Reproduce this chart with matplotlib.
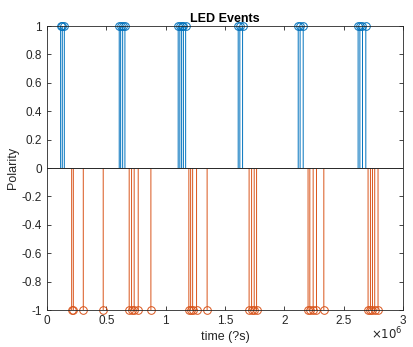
import matplotlib
matplotlib.use('Agg')
import matplotlib.pyplot as plt
from matplotlib.ticker import FuncFormatter
import numpy as np

plt.rcParams['font.family'] = ['Liberation Sans', 'DejaVu Sans']

# event times (us) and polarity
on_times = [0.115e6, 0.129e6, 0.146e6,
            0.609e6, 0.621e6, 0.638e6, 0.657e6,
            1.106e6, 1.120e6, 1.135e6, 1.150e6, 1.169e6,
            1.612e6, 1.626e6, 1.649e6,
            2.118e6, 2.134e6, 2.160e6,
            2.623e6, 2.638e6, 2.660e6, 2.688e6]
off_times = [0.208e6, 0.222e6, 0.306e6, 0.474e6,
             0.693e6, 0.713e6, 0.735e6, 0.769e6, 0.876e6,
             1.196e6, 1.211e6, 1.228e6, 1.261e6, 1.350e6,
             1.704e6, 1.725e6, 1.747e6, 1.767e6,
             2.201e6, 2.216e6, 2.244e6, 2.272e6, 2.334e6,
             2.707e6, 2.727e6, 2.744e6, 2.763e6, 2.791e6]
on_pol = [1] * len(on_times)
off_pol = [-1] * len(off_times)

blue = '#0072BD'
orange = '#D95319'
axcol = '#262626'

fig = plt.figure(figsize=(4.14, 3.47), dpi=100)
ax = fig.add_axes([0.1135, 0.1066, 0.8595, 0.8184])

for t, p, c in [(on_times, on_pol, blue), (off_times, off_pol, orange)]:
    ax.vlines(t, 0, p, colors=c, linewidth=0.7, snap=False)
    ax.plot(t, p, 'o', color=c, markerfacecolor='none', markersize=5.5,
            markeredgewidth=0.7, clip_on=False)

ax.axhline(0, color=axcol, linewidth=0.7)

ax.set_xlim(0, 3e6)
ax.set_ylim(-1, 1)
ax.set_xticks(np.arange(0, 3.01e6, 0.5e6))
ax.set_yticks(np.round(np.arange(-1, 1.01, 0.2), 1))
ax.xaxis.set_major_formatter(FuncFormatter(lambda v, _: f'{v / 1e6:g}'))
ax.yaxis.set_major_formatter(FuncFormatter(lambda v, _: f'{round(v, 1) + 0:g}'))

ax.tick_params(direction='in', top=True, right=True, length=3,
               width=0.6, colors=axcol, labelsize=8.5)
for s in ax.spines.values():
    s.set_color(axcol)
    s.set_linewidth(0.6)

ax.set_title('LED Events', fontsize=9, fontweight='bold', pad=3)
ax.set_xlabel('time (?s)', fontsize=9, color=axcol, labelpad=3)
ax.set_ylabel('Polarity', fontsize=9, color=axcol, labelpad=2)
ax.text(1.0, -0.055, r'$\times 10^6$', transform=ax.transAxes,
        ha='right', va='top', fontsize=8.5, color=axcol)

fig.savefig('out.png', dpi=100)
